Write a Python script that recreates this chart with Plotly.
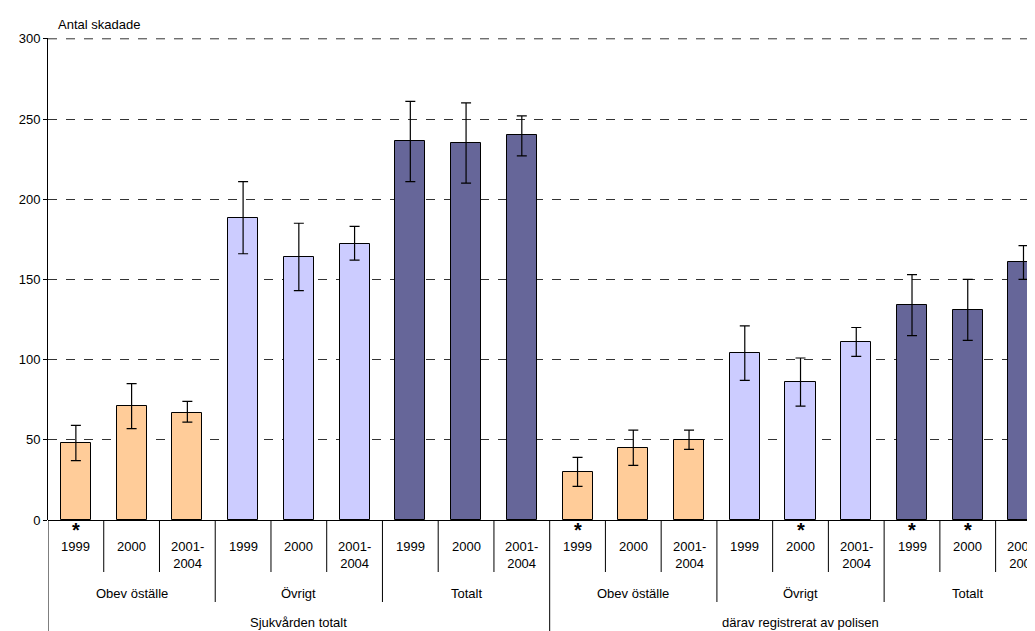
import plotly.graph_objects as go

years = ["1999", "2000", "2001-<br>2004"] * 6
groups = ["Obev öställe", "Övrigt", "Totalt"] * 2
supergroups = ["Sjukvården totalt", "därav registrerat av polisen"]
values = [48, 71, 67, 188, 164, 172, 236, 235, 240,
          30, 45, 50, 104, 86, 111, 134, 131, 161]
err_low = [37, 57, 61, 166, 143, 162, 211, 210, 227,
           21, 34, 44, 87, 71, 102, 115, 112, 150]
err_high = [59, 85, 74, 211, 185, 183, 261, 260, 252,
            39, 56, 56, 121, 101, 120, 153, 150, 171]
stars = [0, 9, 13, 15, 16]
colors = ["#FFCC99"] * 3 + ["#CCCCFF"] * 3 + ["#666699"] * 3
colors = colors * 2

x = list(range(len(values)))
fig = go.Figure(go.Bar(
    x=x, y=values, width=0.54,
    marker=dict(color=colors, line=dict(color="black", width=1)),
    error_y=dict(type="data", symmetric=False,
                 array=[h - v for h, v in zip(err_high, values)],
                 arrayminus=[v - l for l, v in zip(err_low, values)],
                 color="black", thickness=1.2, width=5),
))

PH = 482.0
def py(pix):
    # pixel offset relative to the zero line (screen y 520)
    return (520 - pix) / PH

ann = []
shapes = []
for i, yl in enumerate(years):
    ann.append(dict(x=i, y=py(537), text=yl, showarrow=False, xref="x", yref="paper",
                    yanchor="top", font=dict(size=13)))
for i in stars:
    ann.append(dict(x=i, y=py(517), text="<b>*</b>", showarrow=False, xref="x", yref="paper",
                    yanchor="top", font=dict(size=20)))
for g, name in enumerate(groups):
    ann.append(dict(x=g * 3 + 1, y=py(593), text=name, showarrow=False, xref="x",
                    yref="paper", yanchor="middle", font=dict(size=13)))
for s, name in enumerate(supergroups):
    ann.append(dict(x=s * 9 + 4, y=py(622), text=name, showarrow=False, xref="x",
                    yref="paper", yanchor="middle", font=dict(size=13)))
ann.append(dict(x=0, y=1, xref="paper", yref="paper", text="Antal skadade", showarrow=False,
                xanchor="left", yanchor="bottom", yshift=4, xshift=8, font=dict(size=13)))

for i in range(1, 18):
    if i % 9 == 0:
        bottom = 640
    elif i % 3 == 0:
        bottom = 602
    else:
        bottom = 572
    shapes.append(dict(type="line", xref="x", yref="paper", x0=i - 0.5, x1=i - 0.5,
                       y0=0, y1=py(bottom), line=dict(color="black", width=1)))
shapes.append(dict(type="line", xref="x", yref="paper", x0=-0.5, x1=-0.5,
                   y0=0, y1=py(640), line=dict(color="black", width=1)))
# top gridline at 300 (plotly drops the gridline on the axis edge)
shapes.append(dict(type="line", xref="paper", yref="y", x0=0, x1=1, y0=300, y1=300,
                   line=dict(color="#333333", width=1, dash="dash")))

fig.update_layout(
    width=1035, height=631, showlegend=False,
    margin=dict(l=40, r=0, t=30, b=119, autoexpand=False),
    paper_bgcolor="white", plot_bgcolor="white",
    font=dict(family="Liberation Sans, Arial", size=13, color="black"),
    annotations=ann, shapes=shapes, bargap=0,
    xaxis=dict(range=[-0.5, 17.35], showticklabels=False, showgrid=False,
               zeroline=False, showline=False),
    yaxis=dict(range=[0, 300.5], dtick=50, showgrid=True, griddash="dash",
               gridcolor="#333333", gridwidth=1, showline=True, linecolor="black",
               ticks="outside", ticklen=4, tickcolor="black", zeroline=True,
               zerolinecolor="black", zerolinewidth=1),
)
fig.write_html("out.html")
